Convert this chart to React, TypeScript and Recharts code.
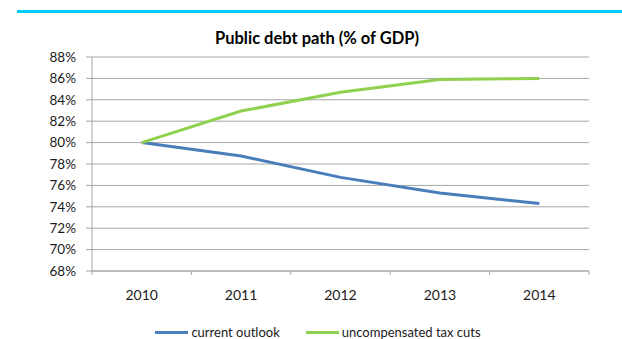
import { LineChart, Line, XAxis, YAxis, CartesianGrid } from 'recharts';

/* ---- data ---- */
const years = [2010, 2011, 2012, 2013, 2014];
const currentOutlook = [80.0, 78.75, 76.75, 75.3, 74.3];
const taxCuts = [80.0, 82.95, 84.7, 85.9, 86.0];
const yTicks = [68, 70, 72, 74, 76, 78, 80, 82, 84, 86, 88];
// category boundaries, where the small tick marks sit
const edgeTicks = [2009.5, 2010.5, 2011.5, 2012.5, 2013.5, 2014.5];

const series = [
  { key: 'current', name: 'current outlook', color: '#4a7ebb', values: currentOutlook },
  { key: 'taxcuts', name: 'uncompensated tax cuts', color: '#8fd14f', values: taxCuts },
];

const data = years.map((year, i) => {
  const row: Record<string, number> = { year };
  series.forEach((s) => {
    row[s.key] = s.values[i];
  });
  return row;
});

const FONT = 'Lato, "Open Sans", sans-serif';
const GRID = '#a6a6a6';
const TEXT = '#1a1a1a';

/* year labels in the middle of each category, tick marks on the boundaries */
function YearTick({ x, y, payload }: any) {
  const v = payload.value as number;
  if (!Number.isInteger(v)) {
    return <line x1={x} x2={x} y1={y} y2={y + 4} stroke={GRID} />;
  }
  return (
    <text x={x} y={y + 19} dy="0.71em" textAnchor="middle" fill={TEXT} fontSize={14} fontFamily={FONT}>
      {v}
    </text>
  );
}

export default function App() {
  return (
    <div style={{ position: 'absolute', left: 0, top: 0, width: 622, height: 339, background: '#fff', fontFamily: FONT }}>
      {/* cyan rule across the top */}
      <div style={{ position: 'absolute', left: 17, right: 0, top: 10, height: 3, background: '#00ccff' }} />

      {/* title */}
      <div
        style={{
          position: 'absolute',
          left: 0,
          width: 634,
          top: 28,
          textAlign: 'center',
          fontSize: 16.5,
          fontWeight: 700,
          color: '#000',
        }}
      >
        Public debt path (% of GDP)
      </div>

      <LineChart
        width={622}
        height={339}
        data={data}
        margin={{ top: 57, right: 33, bottom: 28, left: 0 }}
      >
        <CartesianGrid vertical={false} stroke={GRID} strokeWidth={1} />
        <XAxis
          type="number"
          dataKey="year"
          domain={[2009.5, 2014.5]}
          ticks={[...edgeTicks, ...years]}
          interval={0}
          tick={<YearTick />}
          tickLine={false}
          tickSize={0}
          tickMargin={0}
          axisLine={{ stroke: GRID }}
          height={40}
          allowDataOverflow
        />
        <YAxis
          domain={[68, 88]}
          ticks={yTicks}
          tickFormatter={(v: number) => `${v}%`}
          axisLine={{ stroke: GRID }}
          tickLine={{ stroke: GRID }}
          tickSize={6}
          tickMargin={10}
          tick={{ fill: TEXT, fontSize: 13.5, fontFamily: FONT }}
          width={92}
          interval={0}
        />
        {series.map((s) => (
          <Line
            key={s.key}
            type="linear"
            dataKey={s.key}
            name={s.name}
            stroke={s.color}
            strokeWidth={3}
            dot={false}
            activeDot={false}
            isAnimationActive={false}
          />
        ))}
      </LineChart>

      {/* legend */}
      <div
        style={{
          position: 'absolute',
          left: 0,
          width: 636,
          top: 324,
          display: 'flex',
          justifyContent: 'center',
          gap: 26,
          fontSize: 13,
          color: TEXT,
        }}
      >
        {series.map((s) => (
          <div key={s.key} style={{ display: 'flex', alignItems: 'center' }}>
            <span style={{ display: 'inline-block', width: 33, height: 3, background: s.color, marginRight: 3 }} />
            <span>{s.name}</span>
          </div>
        ))}
      </div>
    </div>
  );
}
